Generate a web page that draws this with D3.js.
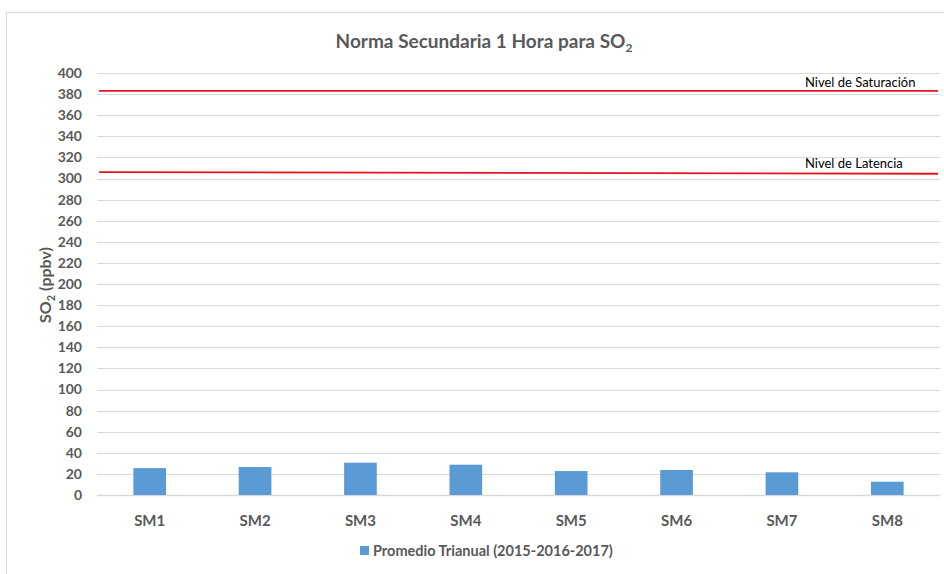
<!DOCTYPE html>
<html>
<head>
<meta charset="utf-8">
<script src="https://cdn.jsdelivr.net/npm/d3@7"></script>
<style>
  body { margin: 0; background: #fff; }
  svg { font-family: Lato, "Open Sans", sans-serif; }
</style>
</head>
<body>
<div id="chart"></div>
<script>
// data
var stations = ['SM1', 'SM2', 'SM3', 'SM4', 'SM5', 'SM6', 'SM7', 'SM8']
var promedio = [25.5, 26.5, 30.6, 28.7, 22.7, 23.7, 21.5, 12.6]
var yTicks = d3.range(0, 401, 20)
var levelNames = ['Nivel de Saturación', 'Nivel de Latencia']
var levelStart = [383, 306]
var levelEnd = [383, 304.5]

function drawChart(selector) {
    var W = 944, H = 574
    var margin = { top: 73, right: 4, bottom: 79, left: 97 },
        width = W - margin.left - margin.right,
        height = H - margin.top - margin.bottom

    var svg = d3.select(selector).append('svg')
        .attr('width', W)
        .attr('height', H)

    // outer frame
    svg.append('rect')
        .attr('x', 6.5).attr('y', 12.5)
        .attr('width', W).attr('height', H)
        .attr('fill', 'none')
        .attr('stroke', '#d9d9d9')

    var title = svg.append('text')
        .attr('x', 484).attr('y', 48)
        .attr('text-anchor', 'middle')
        .attr('font-size', '19px')
        .attr('font-weight', 'bold')
        .attr('fill', '#595959')
    title.append('tspan').text('Norma Secundaria 1 Hora para SO')
    title.append('tspan').attr('font-size', '12px').attr('dy', 4).text('2')

    var g = svg.append('g')
        .attr('transform', 'translate(' + margin.left + ',' + margin.top + ')')

    var x = d3.scaleBand().domain(stations).range([0, width]).paddingInner(0.69).paddingOuter(0.345)
    var xc = d3.scaleBand().domain(stations).range([0, width])
    var y = d3.scaleLinear().domain([0, 400]).range([height, 0])

    // gridlines
    g.selectAll('.grid')
        .data(yTicks)
        .enter().append('line')
        .attr('x1', 0).attr('x2', width)
        .attr('y1', function (d) { return Math.round(y(d)) + 0.5 })
        .attr('y2', function (d) { return Math.round(y(d)) + 0.5 })
        .attr('stroke', '#d9d9d9')
        .attr('stroke-width', function (d) { return d === 0 ? 1.5 : 1 })

    var yAxis = g.append('g')
        .call(d3.axisLeft(y).tickValues(yTicks).tickSize(0).tickPadding(15))
    yAxis.select('.domain').remove()
    yAxis.selectAll('text')
        .attr('font-family', 'Lato, sans-serif')
        .attr('font-size', '14px')
        .attr('font-weight', 'bold')
        .attr('fill', '#595959')

    var xAxis = g.append('g')
        .attr('transform', 'translate(0,' + height + ')')
        .call(d3.axisBottom(xc).tickSize(0).tickPadding(20))
    xAxis.select('.domain').remove()
    xAxis.selectAll('text')
        .attr('font-family', 'Lato, sans-serif')
        .attr('font-size', '15px')
        .attr('font-weight', 'bold')
        .attr('fill', '#595959')

    // bars
    g.selectAll('.bar')
        .data(promedio)
        .enter().append('rect')
        .attr('class', 'bar')
        .attr('x', function (d, i) { return x(stations[i]) })
        .attr('width', x.bandwidth())
        .attr('y', function (d) { return y(d) })
        .attr('height', function (d) { return height - y(d) })
        .attr('fill', '#5b9bd5')

    // reference levels
    g.selectAll('.level')
        .data(levelNames)
        .enter().append('line')
        .attr('x1', 2).attr('x2', width - 2)
        .attr('y1', function (d, i) { return y(levelStart[i]) })
        .attr('y2', function (d, i) { return y(levelEnd[i]) })
        .attr('stroke', '#e8141c')
        .attr('stroke-width', 1.8)

    g.selectAll('.level-label')
        .data(levelNames)
        .enter().append('text')
        .attr('x', 708)
        .attr('y', function (d, i) { return y(levelStart[i]) - 4 })
        .attr('font-size', '13px')
        .attr('fill', '#000')
        .text(function (d) { return d })

    // y title
    var yt = svg.append('text')
        .attr('transform', 'translate(51,285) rotate(-90)')
        .attr('text-anchor', 'middle')
        .attr('font-size', '16px')
        .attr('font-weight', 'bold')
        .attr('fill', '#595959')
    yt.append('tspan').text('SO')
    yt.append('tspan').attr('font-size', '11px').attr('dy', 4).text('2')
    yt.append('tspan').attr('dy', -4).text(' (ppbv)')

    // legend
    var lg = svg.append('g').attr('transform', 'translate(360,546)')
    lg.append('rect').attr('width', 9).attr('height', 9).attr('fill', '#5b9bd5')
    lg.append('text')
        .attr('x', 13).attr('y', 10)
        .attr('font-size', '14.5px')
        .attr('font-weight', 'bold')
        .attr('fill', '#595959')
        .text('Promedio Trianual (2015-2016-2017)')
}

drawChart('#chart')
</script>
</body>
</html>
